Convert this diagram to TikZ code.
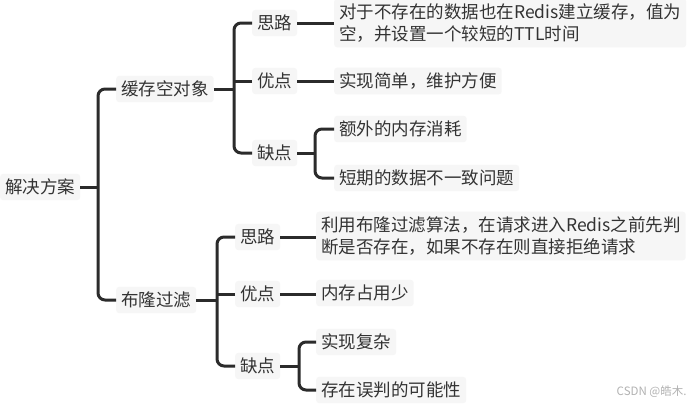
\documentclass[tikz,border=0pt]{standalone}
\usepackage{fontspec}
\setmainfont{Noto Sans CJK SC}
\usetikzlibrary{calc}
\definecolor{linec}{HTML}{2B2B2B}
\definecolor{txtc}{HTML}{333333}
\definecolor{boxc}{HTML}{F6F6F6}
\tikzset{
  item/.style={anchor=west, fill=boxc, rounded corners=3bp, inner xsep=5bp, inner ysep=5bp,
    text=txtc, font=\fontsize{17.5bp}{22bp}\selectfont, align=left},
  conn/.style={draw=linec, line width=3bp, rounded corners=7bp},
  wmark/.style={anchor=east, text=gray!60, font=\fontsize{11.5bp}{13bp}\selectfont}
}
\begin{document}
\begin{tikzpicture}[x=1bp,y=-1bp]
\useasboundingbox[fill=white] (0,0) rectangle (692,405);
% nodes
\node[item] (root) at (0,187) {解决方案};
\node[item] (kong) at (116,89) {缓存空对象};
\node[item] (bloom) at (116,300) {布隆过滤};
\node[item] (ksilu) at (252,23) {思路};
\node[item] (kyou) at (252,81) {优点};
\node[item] (kque) at (252,153) {缺点};
\node[item] (ksilut) at (334,23) {对于不存在的数据也在Redis建立缓存，值为\\空，并设置一个较短的TTL时间};
\node[item] (kyout) at (334,81) {实现简单，维护方便};
\node[item] (kque1) at (334,129) {额外的内存消耗};
\node[item] (kque2) at (334,178) {短期的数据不一致问题};
\node[item] (bsilu) at (235,237) {思路};
\node[item] (byou) at (235,294) {优点};
\node[item] (bque) at (235,366) {缺点};
\node[item] (bsilut) at (316,236) {利用布隆过滤算法，在请求进入Redis之前先判\\断是否存在，如果不存在则直接拒绝请求};
\node[item] (byout) at (316,293) {内存占用少};
\node[item] (bque1) at (316,342) {实现复杂};
\node[item] (bque2) at (316,390) {存在误判的可能性};
\node[wmark] (wm) at (690,392) {CSDN @皓木.};
% junctions
\coordinate (j1) at (98,187);
\coordinate (j2) at (234,89);
\coordinate (j3) at (315,153);
\coordinate (j4) at (217,300);
\coordinate (j5) at (299,366);
% connectors
\draw[conn] (root.east) -- (j1);
\draw[conn] (kong.west) -| (j1) |- (bloom.west);
\draw[conn] (kong.east) -- (j2);
\draw[conn] (ksilu.west) -| (j2) |- (kque.west);
\draw[conn] (kyou.west) -- (kyou.west -| j2);
\draw[conn] (ksilu.east) -- (ksilut.west);
\draw[conn] (kyou.east) -- (kyout.west);
\draw[conn] (kque.east) -- (j3);
\draw[conn] (kque1.west) -| (j3) |- (kque2.west);
\draw[conn] (bloom.east) -- (j4);
\draw[conn] (bsilu.west) -| (j4) |- (bque.west);
\draw[conn] (byou.west) -- (byou.west -| j4);
\draw[conn] (bsilu.east) -- (bsilu.east -| bsilut.west);
\draw[conn] (byou.east) -- (byou.east -| byout.west);
\draw[conn] (bque.east) -- (j5);
\draw[conn] (bque1.west) -| (j5) |- (bque2.west);
\end{tikzpicture}
\end{document}
